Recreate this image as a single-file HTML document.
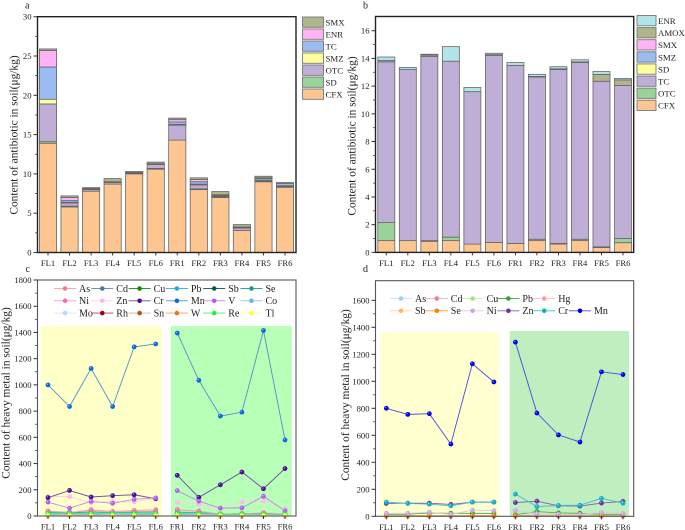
<!DOCTYPE html>
<html>
<head>
<meta charset="utf-8">
<style>
html,body{margin:0;padding:0;background:#fff;width:685px;height:530px;overflow:hidden}
svg{display:block;filter:blur(0.3px)}
text{font-family:"Liberation Serif",serif;fill:#222}
</style>
</head>
<body>
<svg id="fig" width="685" height="530" viewBox="0 0 685 530" xmlns="http://www.w3.org/2000/svg">
</svg>
<script>
var categories = ['FL1','FL2','FL3','FL4','FL5','FL6','FR1','FR2','FR3','FR4','FR5','FR6'];

/* Panel a: antibiotic stacks */
var aCFX = [13.9,5.8,7.8,8.7,10.0,10.6,14.3,8.0,7.0,2.8,9.0,8.3];
var aSD  = [0.2,0.1,0,0,0,0.1,0,0.1,0.1,0,0,0.1];
var aOTC = [4.8,0.4,0.2,0.2,0.1,0.5,1.9,0.5,0.1,0.3,0.1,0.1];
var aSMZ = [0.6,0.1,0,0.1,0,0,0.1,0.1,0.05,0.05,0.1,0];
var aTC  = [4.1,0.2,0.1,0,0.05,0.1,0.3,0.3,0.05,0.05,0.2,0.3];
var aENR = [2.1,0.4,0.05,0,0.05,0,0.3,0.3,0.05,0.05,0.1,0];
var aSMX = [0.2,0.2,0.1,0.4,0.1,0.2,0.2,0.2,0.4,0.3,0.2,0.1];
var aTicks = [0,5,10,15,20,25,30];

/* Panel b: antibiotic stacks */
var bCFX  = [0.85,0.85,0.8,0.85,0.6,0.72,0.65,0.85,0.6,0.85,0.35,0.7];
var bOTC  = [1.3,0,0.05,0.25,0,0,0,0.1,0.05,0.1,0.05,0.3];
var bTC   = [11.6,12.35,13.3,12.7,11.0,13.5,12.85,11.7,12.55,12.75,11.95,11.05];
var bSD   = [0,0,0,0,0,0,0,0,0,0,0,0];
var bSMZ  = [0.1,0,0,0,0,0,0,0,0,0,0,0];
var bSMX  = [0,0,0,0,0,0,0,0,0,0,0,0];
var bAMOX = [0,0,0.1,0,0,0.05,0,0.05,0.05,0.05,0.5,0.4];
var bENR  = [0.25,0.15,0.05,1.05,0.3,0.1,0.2,0.15,0.15,0.15,0.2,0.1];
var bTicks = [0,2,4,6,8,10,12,14,16];

/* Panel c: heavy metals */
var cAs = [38,28,40,30,35,38,45,35,15,12,20,12];
var cCd = [5,6,5,5,6,6,6,5,4,4,5,4];
var cCu = [30,22,30,25,28,30,28,25,15,18,18,15];
var cPb = [25,30,28,25,28,28,30,25,15,15,15,15];
var cSb = [6,5,6,5,6,6,6,5,4,4,4,4];
var cSe = [10,8,10,8,10,10,10,8,6,6,6,6];
var cNi = [38,25,48,35,42,48,48,38,15,15,25,15];
var cZn = [150,148,102,110,108,130,105,90,58,108,115,55];
var cCr = [140,195,145,155,162,132,310,142,238,335,208,362];
var cMn = [1000,835,1125,835,1290,1312,1395,1035,762,792,1415,580];
var cV  = [105,60,112,97,127,138,193,113,60,62,150,40];
var cCo = [12,10,12,10,12,12,12,10,8,8,8,8];
var cMo = [4,3,4,3,4,4,4,3,3,3,3,3];
var cRh = [2,2,2,2,2,2,2,2,2,2,2,2];
var cSn = [4,4,4,4,4,4,4,4,3,3,3,3];
var cW  = [3,3,3,3,3,3,3,3,2,2,2,2];
var cRe = [20,18,20,18,20,20,20,18,14,14,14,14];
var cTl = [3,3,3,3,3,3,3,3,3,3,3,3];
var cTicks = [0,200,400,600,800,1000,1200,1400,1600,1800];

/* Panel d: heavy metals */
var dAs = [6,6,6,5,6,6,6,5,5,5,5,5];
var dCd = [2,2,2,2,2,2,2,2,2,2,2,2];
var dCu = [20,20,22,18,24,24,20,18,15,14,16,16];
var dPb = [15,15,25,22,22,20,12,35,25,22,15,15];
var dHg = [1,1,1,1,1,1,1,1,1,1,1,1];
var dSb = [3,3,3,3,3,3,3,3,3,3,3,3];
var dSe = [4,4,4,4,4,4,4,4,4,4,4,4];
var dNi = [22,22,30,15,45,42,42,18,15,13,28,20];
var dZn = [95,97,97,88,105,105,102,112,78,76,98,110];
var dCr = [105,95,90,78,105,105,165,72,80,82,133,97];
var dMn = [800,755,760,535,1130,995,1290,765,603,550,1070,1050];
var dTicks = [0,200,400,600,800,1000,1200,1400,1600];

var svg = document.getElementById('fig');
var NS = 'http://www.w3.org/2000/svg';

function mk(tag, attrs, parent) {
  var el = document.createElementNS(NS, tag);
  for (var k in attrs) { el.setAttribute(k, attrs[k]); }
  parent.appendChild(el);
  return el;
}
function linear(d0, d1, r0, r1) {
  return function (v) { return r0 + (v - d0) * (r1 - r0) / (d1 - d0); };
}

function drawAxes(p, g) {
  var frame = mk('rect', {x:p.left, y:p.top, width:p.right-p.left, height:p.bottom-p.top, fill:'none', stroke:p.frame, 'stroke-width':p.fw}, g);
  
  
  p.yTicks.forEach(function (t) {
    var y = p.y(t);
    var tick = mk('line', {x1:p.left-4, x2:p.left, y1:y, y2:y, stroke:'#333', 'stroke-width':1}, g);
    
    
    var lab = mk('text', {x:p.left-6, y:y+3, 'text-anchor':'end', 'font-size':8.6}, g);
    lab.textContent = t;
    
    
  });
  for (var m = 0; m < p.yTicks.length - 1; m++) {
    var mid = (p.yTicks[m] + p.yTicks[m+1]) / 2;
    var my = p.y(mid);
    var mt = mk('line', {x1:p.left-2.5, x2:p.left, y1:my, y2:my, stroke:'#444', 'stroke-width':0.8}, g);
    
    
  }
  categories.forEach(function (c, i) {
    var x = p.x(i);
    var xt = mk('line', {x1:x, x2:x, y1:p.bottom, y2:p.bottom+3, stroke:'#333', 'stroke-width':1}, g);
    
    
    var xl = mk('text', {x:x, y:p.bottom+p.labelDy, 'text-anchor':'middle', 'font-size':8.6}, g);
    xl.textContent = c;
    
    
  });
  var title = mk('text', {transform:'translate(' + p.titleX + ',' + p.titleY + ') rotate(-90)', 'text-anchor':'middle', 'font-size':p.titleSize}, g);
  title.textContent = p.title;
  
  
  var letter = mk('text', {x:p.letterX, y:p.letterY, 'font-size':10}, g);
  letter.textContent = p.id;
  
  
}

function drawStack(p, g, series) {
  categories.forEach(function (c, i) {
    var base = 0;
    series.forEach(function (s) {
      var v = s.values[i];
      if (v <= 0) { return; }
      var y1 = p.y(base + v);
      var y0 = p.y(base);
      var seg = mk('rect', {x:p.x(i)-p.barW/2, y:y1, width:p.barW, height:y0-y1, fill:s.color, stroke:'#666', 'stroke-width':0.8}, g);
      
      
      base += v;
    });
  });
}

function drawBarLegend(series, x, y0, step, w) {
  var g = mk('g', {}, svg);
  
  
  series.slice().reverse().forEach(function (s, i) {
    var y = y0 + i * step;
    var sw = mk('rect', {x:x, y:y, width:w, height:10.3, fill:s.color, stroke:'#777', 'stroke-width':0.9}, g);
    
    
    var t = mk('text', {x:x+w+2, y:y+8.5, 'font-size':8.8}, g);
    t.textContent = s.name;
    
    
  });
}

function pointList(p, values, start) {
  return values.map(function (v, i) { return p.x(i + start) + ',' + p.y(v); }).join(' ');
}

function drawLines(p, g, series) {
  series.forEach(function (s) {
    var first = mk('polyline', {points:pointList(p, s.values.slice(0,6), 0), fill:'none', stroke:s.line, 'stroke-width':0.9}, g);
    
    
    var second = mk('polyline', {points:pointList(p, s.values.slice(6), 6), fill:'none', stroke:s.line, 'stroke-width':0.9}, g);
    
    
  });
  series.forEach(function (s) {
    s.values.forEach(function (v, i) {
      var dot = mk('circle', {cx:p.x(i), cy:p.y(v), r:2.4, fill:s.color}, g);
      
      
      mk('circle', {cx:p.x(i)-0.7, cy:p.y(v)-0.7, r:0.7, fill:'#fff', 'fill-opacity':0.55}, g);
    });
  });
}

function drawLineLegend(series, x0, y0, stepX, stepY, rowCounts, textDx) {
  var g = mk('g', {}, svg);
  
  
  var row = 0, col = 0;
  series.forEach(function (s) {
    var mx = x0 + col * stepX;
    var my = y0 + row * stepY;
    var ln = mk('line', {x1:mx-11, x2:mx+11, y1:my, y2:my, stroke:s.line, 'stroke-width':0.9}, g);
    
    
    var c = mk('circle', {cx:mx, cy:my, r:2.3, fill:s.color}, g);
    
    
    var t = mk('text', {x:mx+textDx, y:my+3.4, 'font-size':10}, g);
    t.textContent = s.name;
    
    
    col++;
    if (col >= rowCounts[row]) { col = 0; row++; }
  });
}

function band(g, name, x, y, x2, y2, color) {
  var r = mk('rect', {x:x, y:y, width:x2-x, height:y2-y, fill:color}, g);
  
  
}

function panelGroup(name) {
  var g = mk('g', {}, svg);
  
  
  return g;
}

/* ---------- panel a ---------- */
var pa = {id:'a', left:37.5, right:296, top:16.7, bottom:252.5, barW:17.2, frame:'#222', fw:1.4,
  x:linear(0,11,48,285), y:linear(0,30,252.5,16.7), yTicks:aTicks, labelDy:13.5,
  title:'Content of antibiotic in soil(μg/kg)', titleX:17.5, titleY:135, titleSize:11.4, letterX:25, letterY:8.5};
var ga = panelGroup('panel-a-stacked-bar-chart');
var seriesA = [
  {name:'CFX', values:aCFX, color:'#fdc691'},
  {name:'SD',  values:aSD,  color:'#9ad39a'},
  {name:'OTC', values:aOTC, color:'#bfaed6'},
  {name:'SMZ', values:aSMZ, color:'#feff9c'},
  {name:'TC',  values:aTC,  color:'#9bbcf0'},
  {name:'ENR', values:aENR, color:'#ffb3f5'},
  {name:'SMX', values:aSMX, color:'#b0b48a'}
];
drawStack(pa, ga, seriesA);
drawAxes(pa, ga);
drawBarLegend(seriesA, 302.5, 17, 12, 21);

/* ---------- panel b ---------- */
var pb = {id:'b', left:375.5, right:633.7, top:16.5, bottom:252.4, barW:17, frame:'#222', fw:1.4,
  x:linear(0,11,386.3,623), y:linear(0,16,252.4,30.7), yTicks:bTicks, labelDy:13.5,
  title:'Content of antibiotic in soil(μg/kg)', titleX:355.5, titleY:136, titleSize:11.4, letterX:363, letterY:8.5};
var gb = panelGroup('panel-b-stacked-bar-chart');
var seriesB = [
  {name:'CFX',  values:bCFX,  color:'#fdc691'},
  {name:'OTC',  values:bOTC,  color:'#9ad39a'},
  {name:'TC',   values:bTC,   color:'#bfaed6'},
  {name:'SD',   values:bSD,   color:'#feff9c'},
  {name:'SMZ',  values:bSMZ,  color:'#9bbcf0'},
  {name:'SMX',  values:bSMX,  color:'#ffb3f5'},
  {name:'AMOX', values:bAMOX, color:'#b0b48a'},
  {name:'ENR',  values:bENR,  color:'#b2e5e8'}
];
drawStack(pb, gb, seriesB);
drawAxes(pb, gb);
drawBarLegend(seriesB, 637, 15.5, 12.1, 19);

/* ---------- panel c ---------- */
var pc = {id:'c', left:37.5, right:296, top:280, bottom:516, frame:'#555', fw:1.1,
  x:linear(0,11,48,285), y:linear(0,1800,516,280), yTicks:cTicks, labelDy:13.5,
  title:'Content of heavy metal in soil(μg/kg)', titleX:9.5, titleY:393, titleSize:11.4, letterX:25.5, letterY:272};
var gc = panelGroup('panel-c-line-chart');
band(gc, 'fl-background-band', 40.7, 326, 161.7, 515.5, '#ffffc8');
band(gc, 'fr-background-band', 171, 326, 291.7, 515.5, '#b8ffb8');
var seriesC = [
  {name:'As', values:cAs, color:'#f08088', line:'#f4a8a8'},
  {name:'Cd', values:cCd, color:'#4a78a8', line:'#6f94bb'},
  {name:'Cu', values:cCu, color:'#0a8a0a', line:'#2a9a2a'},
  {name:'Pb', values:cPb, color:'#18b0c8', line:'#40bcd0'},
  {name:'Sb', values:cSb, color:'#0a5a50', line:'#206a60'},
  {name:'Se', values:cSe, color:'#10a090', line:'#30a89c'},
  {name:'Ni', values:cNi, color:'#ff69b4', line:'#fb98c8'},
  {name:'Zn', values:cZn, color:'#ffb8e6', line:'#ffcdec'},
  {name:'Cr', values:cCr, color:'#4b0a98', line:'#6a4aa0'},
  {name:'Mn', values:cMn, color:'#0a6ad8', line:'#5090c8'},
  {name:'V',  values:cV,  color:'#b060f0', line:'#bd8ae8'},
  {name:'Co', values:cCo, color:'#70b0f0', line:'#8cc0f0'},
  {name:'Mo', values:cMo, color:'#b8d8ff', line:'#d4e6fb'},
  {name:'Rh', values:cRh, color:'#a00010', line:'#b04050'},
  {name:'Sn', values:cSn, color:'#a85a10', line:'#e0b090'},
  {name:'W',  values:cW,  color:'#e87810', line:'#eca060'},
  {name:'Re', values:cRe, color:'#20f040', line:'#50e868'},
  {name:'Tl', values:cTl, color:'#ffff40', line:'#fafaa0'}
];
drawLines(pc, gc, seriesC);
drawAxes(pc, gc);
drawLineLegend(seriesC, 65, 288.5, 37.3, 12.3, [6,6,6], 14);

/* ---------- panel d ---------- */
var pd = {id:'d', left:375.5, right:633.7, top:280.7, bottom:516.3, frame:'#555', fw:1.1,
  x:linear(0,11,386.3,623), y:linear(0,1600,516.3,300.3), yTicks:dTicks, labelDy:13.5,
  title:'Content of heavy metal in soil(μg/kg)', titleX:349, titleY:395, titleSize:11.4, letterX:363, letterY:272};
var gd = panelGroup('panel-d-line-chart');
band(gd, 'fl-background-band', 380.3, 331.7, 499, 515.8, '#ffffd0');
band(gd, 'fr-background-band', 509.7, 331, 629, 515.8, '#bfeebf');
var seriesD = [
  {name:'As', values:dAs, color:'#a0d0f0', line:'#cfe4f4'},
  {name:'Cd', values:dCd, color:'#f08090', line:'#f5b5bd'},
  {name:'Cu', values:dCu, color:'#a8e090', line:'#cfeec0'},
  {name:'Pb', values:dPb, color:'#30a030', line:'#50b050'},
  {name:'Hg', values:dHg, color:'#f8a0a0', line:'#f8cccc'},
  {name:'Sb', values:dSb, color:'#ffb860', line:'#ffd4a0'},
  {name:'Se', values:dSe, color:'#ff8000', line:'#ff9830'},
  {name:'Ni', values:dNi, color:'#c8a8e0', line:'#dac8ea'},
  {name:'Zn', values:dZn, color:'#7030a0', line:'#8a5ab0'},
  {name:'Cr', values:dCr, color:'#10b0c8', line:'#40bcd0'},
  {name:'Mn', values:dMn, color:'#0000f0', line:'#4a4ae0'}
];
drawLines(pd, gd, seriesD);
drawAxes(pd, gd);
drawLineLegend(seriesD, 401, 298.5, 35.8, 12.3, [5,6], 14);
</script>
</body>
</html>
